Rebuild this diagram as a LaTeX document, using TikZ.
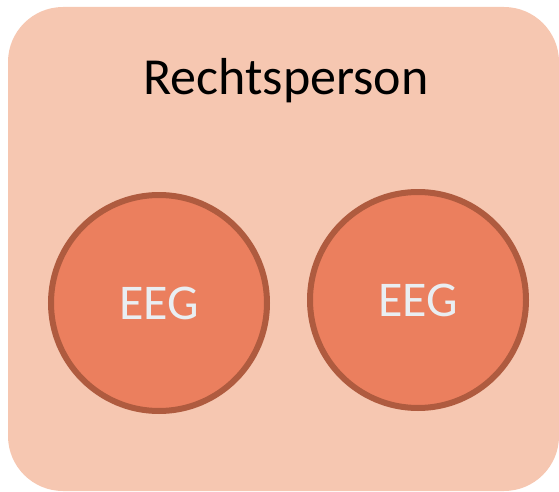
\documentclass[tikz,border=0pt]{standalone}
\usepackage{fontspec}
\setmainfont{Carlito}
\definecolor{boxfill}{HTML}{F6C7B1}
\definecolor{eegfill}{HTML}{EB7F5E}
\definecolor{eegline}{HTML}{AF5B3F}
\definecolor{eegtext}{HTML}{E9EEF2}

\def\outerbox{(8,7) rectangle (559,491)}

\tikzset{
  eeg/.style={circle,fill=eegfill,draw=eegline,line width=6pt,minimum size=216pt,
    text=eegtext,font=\fontsize{50}{60}\selectfont},
}

\begin{document}
\begin{tikzpicture}[x=1pt,y=-1pt]
        \useasboundingbox (0,0) rectangle (559,492);
        \fill[boxfill,rounded corners=55pt] \outerbox;
        \node[font=\fontsize{52}{62}\selectfont] (title) at (286,81) {Rechtsperson};
        \node[eeg] (eegleft) at (159,303) {EEG};
        \node[eeg] (eegright) at (418,300) {EEG};
\end{tikzpicture}
\end{document}
